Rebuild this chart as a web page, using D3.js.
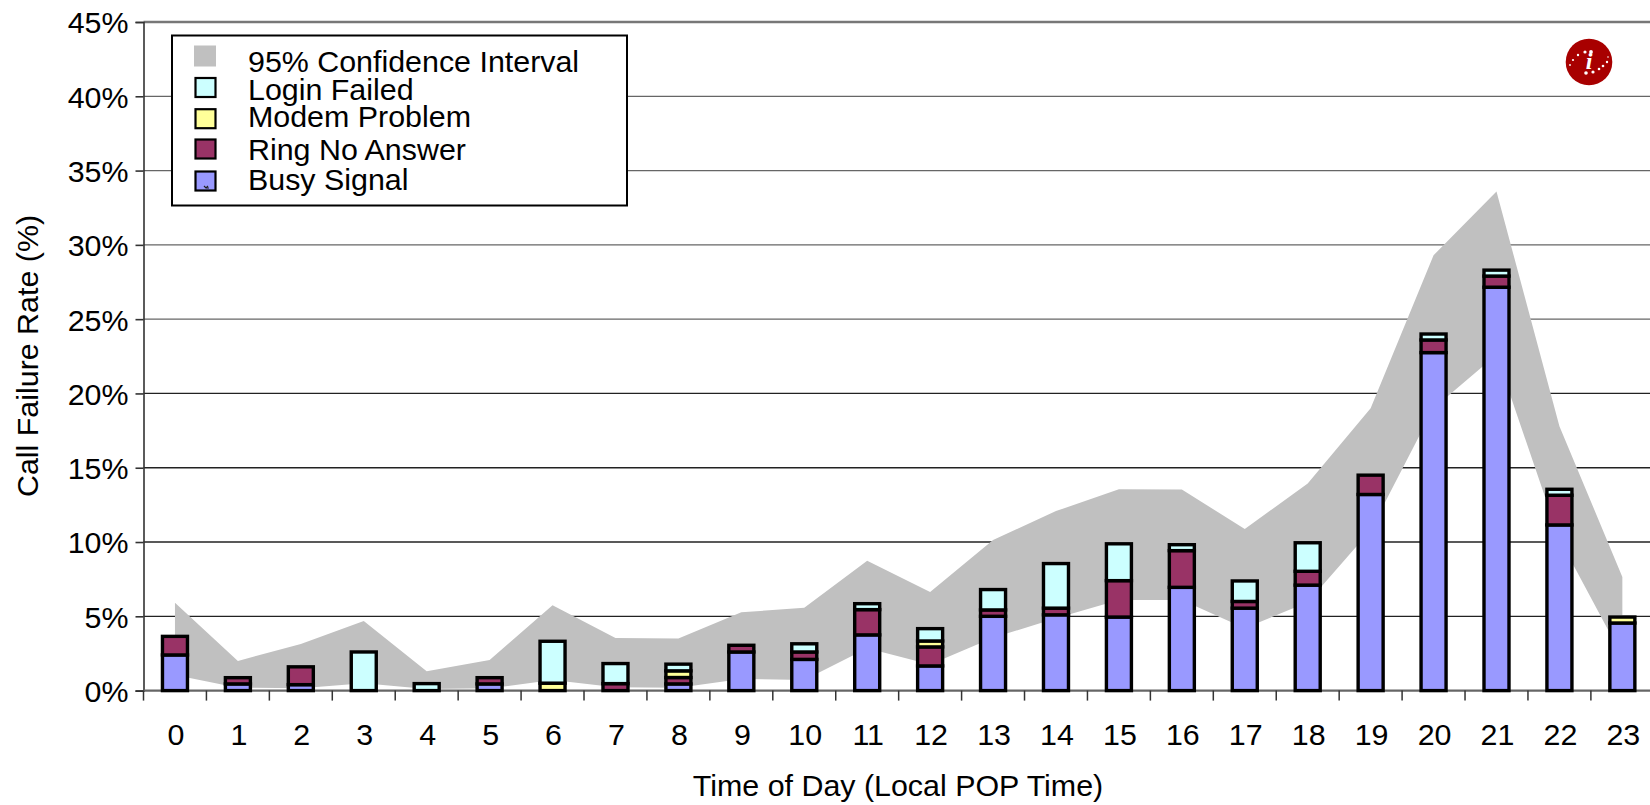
<!DOCTYPE html>
<html><head><meta charset="utf-8">
<script src="https://cdn.jsdelivr.net/npm/d3@7/dist/d3.min.js"></script>
<style>html,body{margin:0;padding:0;background:#fff}svg{display:block}text{font-family:"Liberation Sans",Arial,sans-serif;fill:#000}</style>
</head><body><svg id="c" width="1650" height="805"></svg>
<script>
const hours=d3.range(24);
const busy =[2.4,0.45,0.4,0,0,0.45,0,0,0.45,2.6,2.1,3.75,1.66,5.0,5.1,4.95,6.95,5.55,7.1,13.2,22.75,27.15,11.15,4.55];
const ring =[1.25,0.42,1.2,0,0,0.42,0,0.47,0.43,0.45,0.5,1.7,1.28,0.43,0.45,2.45,2.47,0.45,0.93,1.3,0.85,0.75,2.0,0];
const modem=[0,0,0,0,0,0,0.5,0,0.45,0,0,0,0.4,0,0,0,0,0,0,0,0,0,0,0.4];
const login=[0,0,0,2.6,0.47,0,2.82,1.35,0.45,0,0.55,0.4,0.83,1.37,3.0,2.48,0.4,1.38,1.92,0,0.4,0.4,0.4,0];
const ciUpper=[5.92,2.0,3.14,4.69,1.3,2.06,5.74,3.54,3.5,5.27,5.58,8.74,6.64,10.13,12.08,13.56,13.54,10.87,13.94,19.0,29.3,33.6,17.8,7.65];
const ciLower=[1.05,0.2,0.15,0.5,0.1,0.15,0.72,0.22,0.2,0.78,0.72,2.85,1.75,3.55,4.87,6.1,6.1,4.2,5.95,10.8,19.0,22.6,10.2,2.3];
const yTicks=[0,5,10,15,20,25,30,35,40,45];
const seriesValues=[busy,ring,modem,login];
const seriesColors=["#9999ff","#993366","#ffff99","#ccffff"];
const legendLabels=["95% Confidence Interval","Login Failed","Modem Problem","Ring No Answer","Busy Signal"];
const legendColors=["#c0c0c0","#ccffff","#ffff99","#993366","#9999ff"];
const xLabel="Time of Day (Local POP Time)", yLabel="Call Failure Rate (%)";

const FS="30.4px";
const svg=d3.select("#c");
const left=143.5,step=62.93;
const x=d3.scaleBand().domain(hours).range([left,left+24*step]).paddingInner(0).paddingOuter(0);
const y=d3.scaleLinear().domain([0,45]).range([690.6,22]);

// gridlines
svg.append("g").selectAll("line").data(yTicks.slice(1)).join("line")
 .attr("x1",left).attr("x2",1650).attr("y1",d=>y(d)).attr("y2",d=>y(d))
 .attr("stroke",d=>d===45?"#777":d>=25?"#666":"#222").attr("stroke-width",d=>d===45?2.6:1.3);

// CI band
const mid=h=>x(h)+x.bandwidth()/2;
const area=d3.area().x(mid).y0(h=>y(ciLower[h])).y1(h=>y(ciUpper[h]));
svg.append("path").datum(hours).attr("d",area).attr("fill","#c0c0c0");

// axes
const ax=svg.append("g").attr("transform",`translate(${left},0)`)
 .call(d3.axisLeft(y).tickValues(yTicks).tickFormat(d=>d+"%").tickSize(8).tickPadding(7));
ax.selectAll("text").style("font-size",FS).attr("dy","0.36em");
ax.selectAll("line,path").attr("stroke","#333").attr("stroke-width",1.6);
const bx=svg.append("g").attr("transform",`translate(0,${y(0)})`);
bx.append("line").attr("x1",left).attr("x2",1650).attr("stroke","#666").attr("stroke-width",2.4);
bx.selectAll(".t").data(d3.range(0,25)).join("line").attr("class","t")
 .attr("x1",d=>left+d*step).attr("x2",d=>left+d*step).attr("y1",0).attr("y2",10)
 .attr("stroke","#333").attr("stroke-width",1.5);
bx.selectAll("text").data(hours).join("text").attr("x",d=>mid(d)+1).attr("y",54)
 .attr("text-anchor","middle").style("font-size",FS).text(d=>d);

// stacked bars
const stacked=d3.stack().keys(d3.range(4)).value((h,k)=>seriesValues[k][h])(hours);
const bw=25;
svg.append("g").selectAll("g").data(stacked).join("g").attr("fill",(d,i)=>seriesColors[i])
 .selectAll("rect").data(d=>d.filter(s=>s[1]-s[0]>0).map(s=>({s,h:s.data}))).join("rect")
 .attr("x",d=>mid(d.h)-bw/2).attr("width",bw)
 .attr("y",d=>y(d.s[1])).attr("height",d=>y(d.s[0])-y(d.s[1]))
 .attr("stroke","#000").attr("stroke-width",3.4);

// axis titles
svg.append("text").attr("x",898).attr("y",796).attr("text-anchor","middle").style("font-size",FS).text(xLabel);
svg.append("text").attr("transform","translate(38,356) rotate(-90)").attr("text-anchor","middle").style("font-size",FS).text(yLabel);

// legend
const lg=svg.append("g");
lg.append("rect").attr("x",172).attr("y",35.5).attr("width",455).attr("height",170).attr("fill","#fff").attr("stroke","#000").attr("stroke-width",2);
const swatchY=[56,87.5,118.7,149,181], textY=[72,99.5,127,160,190];
legendLabels.forEach((t,i)=>{
  const r=lg.append("rect").attr("fill",legendColors[i]);
  if(i===0){r.attr("x",194).attr("y",swatchY[i]-10.5).attr("width",22).attr("height",21);}
  else{r.attr("x",195.5).attr("width",20).attr("y",swatchY[i]-9.5).attr("height",19).attr("stroke","#000").attr("stroke-width",2.2);}
  lg.append("text").attr("x",248).attr("y",textY[i]).style("font-size",FS).text(t);
});
lg.append("path").attr("d","M204 186l2 2l2-2M206 188h3").attr("fill","none").attr("stroke","#222").attr("stroke-width",1.2);

// logo
const lgo=svg.append("g").attr("transform","translate(1589,62)");
lgo.append("circle").attr("r",23.3).attr("fill","#a80000");
lgo.append("text").attr("text-anchor","middle").attr("y",7).style("font-family","Liberation Serif").style("font-style","italic").style("font-weight","bold").style("font-size","24px").style("fill","#fff").text("i");
[[-4,-10,1.6],[2,-10,1.9],[-11,-7,1.2],[-16,-2,1.1],[-19,3,.9],[19,-5,.8],[18,0,1.2],[14,4,1.3],[10,7,1.3],[4,10,1.6],[-3,11,1.8]].forEach(p=>{
  lgo.append("circle").attr("cx",p[0]).attr("cy",p[1]).attr("r",p[2]).attr("fill","#fff");
});
</script></body></html>
